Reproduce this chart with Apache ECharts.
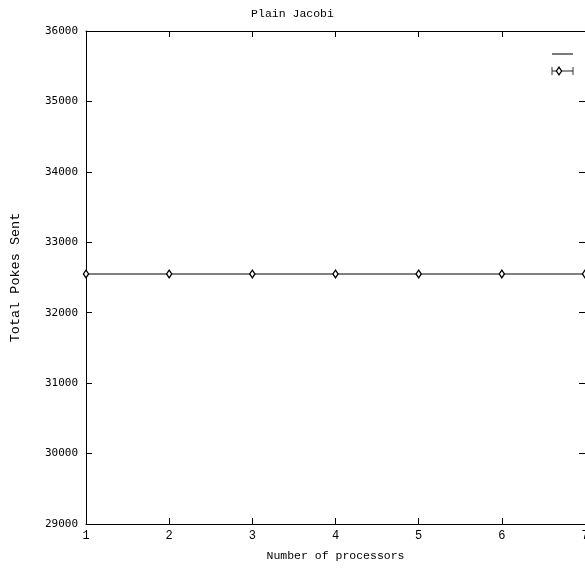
<!DOCTYPE html>
<html>
<head>
<meta charset="utf-8">
<script src="https://cdn.jsdelivr.net/npm/echarts@6/dist/echarts.min.js"></script>
<style>html,body{margin:0;padding:0;background:#fff}#c{width:585px;height:569px}</style>
</head>
<body>
<div id="c"></div>
<script>
const processors = [1, 2, 3, 4, 5, 6, 7];
const pokesSent = [32550, 32550, 32550, 32550, 32550, 32550, 32550];
const pokesErr = [0, 0, 0, 0, 0, 0, 0];
const titleText = 'Plain Jacobi';
const xName = 'Number of processors';
const yName = 'Total Pokes Sent';

const lineData = processors.map((p, i) => [p, pokesSent[i]]);
const errData = processors.map((p, i) => [p, pokesSent[i] - pokesErr[i], pokesSent[i] + pokesErr[i], pokesSent[i]]);

const chart = echarts.init(document.getElementById('c'), null, {renderer: 'canvas'});
const mono = 'Liberation Mono';
const tickStyle = {show: true, inside: true, length: 6, lineStyle: {color: '#000', width: 1}};
const lineOn = {show: true, onZero: false, lineStyle: {color: '#000', width: 1}};
chart.setOption({
  animation: false,
  backgroundColor: '#fff',
  title: {
    text: titleText, left: 'center', top: 3,
    textStyle: {fontFamily: mono, fontSize: 11.5, fontWeight: 'normal', color: '#000'}
  },
  grid: {left: 86, right: 0, top: 31, bottom: 45, show: false,
         containLabel: false, outerBoundsMode: 'none'},
  xAxis: [
    {
      type: 'value', min: 1, max: 7, interval: 1, position: 'bottom',
      name: xName, nameLocation: 'middle', nameGap: 26,
      nameTextStyle: {fontFamily: mono, fontSize: 11.5, color: '#000'},
      axisLine: lineOn, axisTick: tickStyle, splitLine: {show: false},
      axisLabel: {fontFamily: mono, fontSize: 12, color: '#000', margin: 6, formatter: v => String(v)}
    },
    {
      type: 'value', min: 1, max: 7, interval: 1, position: 'top',
      axisLine: lineOn, axisTick: tickStyle, splitLine: {show: false},
      axisLabel: {show: false}
    }
  ],
  yAxis: [
    {
      type: 'value', min: 29000, max: 36000, interval: 1000, position: 'left',
      name: yName, nameLocation: 'middle', nameGap: 64, nameRotate: 90,
      nameTextStyle: {fontFamily: mono, fontSize: 13.5, color: '#000'},
      axisLine: lineOn, axisTick: tickStyle, splitLine: {show: false},
      axisLabel: {fontFamily: 'DejaVu Sans Mono', fontSize: 11, color: '#000', margin: 8, formatter: v => String(v)}
    },
    {
      type: 'value', min: 29000, max: 36000, interval: 1000, position: 'right',
      axisLine: {show: false}, axisTick: tickStyle, splitLine: {show: false},
      axisLabel: {show: false}
    }
  ],
  series: [
    {
      type: 'line', data: lineData, xAxisIndex: 0, yAxisIndex: 0,
      showSymbol: false, symbol: 'none',
      lineStyle: {color: '#555', width: 1.3}, z: 2
    },
    {
      type: 'custom', xAxisIndex: 0, yAxisIndex: 0, data: errData, z: 3,
      renderItem: function (params, api) {
        const x = api.value(0);
        const lo = api.coord([x, api.value(1)]);
        const hi = api.coord([x, api.value(2)]);
        const c = api.coord([x, api.value(3)]);
        return {
          type: 'group',
          children: [
            {type: 'line', shape: {x1: lo[0], y1: lo[1], x2: hi[0], y2: hi[1]}, style: {stroke: '#000', lineWidth: 1}},
            {type: 'polygon', shape: {points: [[c[0], c[1] - 3.8], [c[0] + 2.6, c[1]], [c[0], c[1] + 3.8], [c[0] - 2.6, c[1]]]},
             style: {fill: '#fff', stroke: '#000', lineWidth: 1.3}}
          ]
        };
      }
    }
  ],
  graphic: [
    {type: 'line', shape: {x1: 552, y1: 54, x2: 573, y2: 54}, style: {stroke: '#333', lineWidth: 1.3}},
    {type: 'line', shape: {x1: 552, y1: 71, x2: 573, y2: 71}, style: {stroke: '#555', lineWidth: 1.3}},
    {type: 'line', shape: {x1: 552, y1: 67, x2: 552, y2: 75}, style: {stroke: '#333', lineWidth: 1}},
    {type: 'line', shape: {x1: 573, y1: 67, x2: 573, y2: 75}, style: {stroke: '#333', lineWidth: 1}},
    {type: 'polygon', shape: {points: [[559, 67.2], [561.6, 71], [559, 74.8], [556.4, 71]]}, style: {fill: '#fff', stroke: '#000', lineWidth: 1.3}}
  ]
});
</script>
</body>
</html>
